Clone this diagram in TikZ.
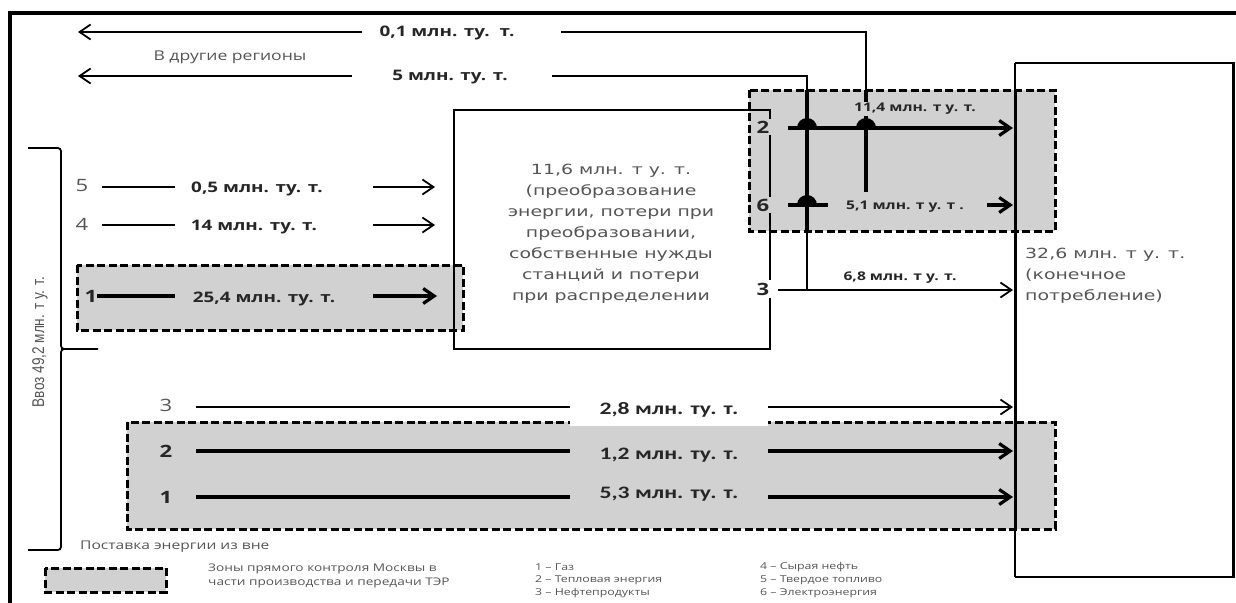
\documentclass[tikz,border=0pt]{standalone}
\usepackage{fontspec}
\setmainfont{Open Sans}
\newfontfamily\labf[FakeStretch=1.3]{Open Sans}
\newfontfamily\txtf[FakeStretch=1.35]{DejaVu Sans}
\newfontfamily\narf[FakeStretch=0.8]{Liberation Sans}
\newfontfamily\calf[FakeStretch=1.35]{Carlito}
\usetikzlibrary{arrows.meta}
\definecolor{zone}{RGB}{209,209,209}
\definecolor{txt}{RGB}{85,85,85}
\tikzset{
  zonebox/.style={fill=zone, draw=black, line width=3pt, dash pattern=on 8pt off 3.5pt},
  ln/.style={line width=1.8pt},
  lnk/.style={line width=3.2pt},
  arr/.style={-{Straight Barb[length=11pt,width=15pt]}},
  larr/.style={{Straight Barb[length=11pt,width=15pt]}-},
  lab/.style={font={\labf\bfseries\fontsize{14.5}{16}\selectfont}, text=black!85, inner sep=1pt},
  slab/.style={font={\labf\bfseries\fontsize{12}{14}\selectfont}, text=black!85, inner sep=1pt},
  blab/.style={font={\calf\bfseries\fontsize{17.5}{19}\selectfont}, text=black!85, inner sep=1pt},
  body/.style={font={\txtf\fontsize{14}{21}\selectfont}, text=txt, align=center, inner sep=0pt},
  num/.style={font={\labf\fontsize{17}{19}\selectfont}, text=txt, inner sep=1pt},
  bnum/.style={font={\labf\bfseries\fontsize{17}{19}\selectfont}, text=black!85, inner sep=1pt},
  leg/.style={font={\labf\fontsize{9.5}{13}\selectfont}, text=txt, anchor=west, inner sep=0pt},
}
\begin{document}
\begin{tikzpicture}[x=1pt,y=-1pt]
\useasboundingbox (0,0) rectangle (1236,602);
\clip (0,0) rectangle (1236,602);
% frame
\draw[line width=4pt] (10,13) rectangle (1250,620);
% zones
\draw[zonebox] (77,265) rectangle (463,330);
\draw[zonebox] (749,90) rectangle (1055,231);
\draw[zonebox] (127,422) rectangle (1055,529);
% middle box
\node[draw, line width=1.6pt, minimum width=316pt, minimum height=239pt, anchor=north west, inner sep=0pt] (mid) at (453,109) {};
\node[body] (midtxt) at (611,234) {11,6 млн. т у. т.\\(преобразование\\энергии, потери при\\преобразовании,\\собственные нужды\\станций и потери\\при распределении};
% right box
\draw[line width=1.6pt] (1015,63) -- (1233,63);
\draw[line width=1.6pt] (1015,577) -- (1233,577);
\draw[line width=1.6pt] (1015,63) -- (1015,577);
\draw[line width=3pt] (1233,62) -- (1233,578);
\draw[line width=3pt] (1015,90) -- (1015,529);
\node[body, align=left, anchor=north west] (fin) at (1025,248) {32,6 млн. т у. т.\\(конечное\\потребление)};
% brace
\draw[ln] (28,148) -- (54,148) .. controls (61,148) .. (61,155) -- (61,342) .. controls (61,349) .. (68,349) -- (98,349);
\draw[ln] (68,349) .. controls (61,349) .. (61,356) -- (61,543) .. controls (61,550) .. (54,550) -- (28,550);
\node[font={\narf\fontsize{17}{19}\selectfont}, text=txt, rotate=90] (vvoz) at (40,342) {Ввоз 49,2 млн. т у. т.};
% top outgoing flows
\node[lab] (o1) at (447,33) {0,1 млн. ту.\ \ т.};
\node[font={\labf\fontsize{13.5}{15}\selectfont}, text=txt] (reg) at (230,57) {В другие регионы};
\node[lab] (o5) at (450,77) {5 млн. ту. т.};
\coordinate (o1a) at (362,32);
\coordinate (o1b) at (78,32);
\coordinate (o1c) at (561,32);
\coordinate (o1d) at (866,32);
\coordinate (o1e) at (866,90);
\coordinate (o1f) at (866,192);
\draw[ln,larr] (o1b) -- (o1a);
\draw[ln] (o1c) -- (o1d) -- (o1e);
\draw[lnk] (o1e) -- (o1f);
\coordinate (o5a) at (352,76);
\coordinate (o5b) at (78,76);
\coordinate (o5c) at (552,76);
\coordinate (o5d) at (807,76);
\coordinate (o5e) at (807,90);
\coordinate (o5f) at (807,231);
\coordinate (o5g) at (807,290);
\draw[ln,larr] (o5b) -- (o5a);
\draw[ln] (o5c) -- (o5d) -- (o5e);
\draw[lnk] (o5e) -- (o5f);
\draw[ln] (o5f) -- (o5g);
% rows in top right zone
\coordinate (r2a) at (788,128);
\coordinate (r2b) at (1013,128);
\draw[lnk,arr] (r2a) -- (r2b);
\fill (797,128) arc[start angle=180,end angle=0,radius=10pt] -- cycle;
\fill (856,128) arc[start angle=180,end angle=0,radius=10pt] -- cycle;
\node[slab, fill=zone] (l114) at (915,109) {11,4 млн. т у. т.};
\coordinate (r6a) at (788,205);
\coordinate (r6b) at (828,205);
\coordinate (r6c) at (987,205);
\coordinate (r6d) at (1013,205);
\draw[lnk] (r6a) -- (r6b);
\draw[lnk,arr] (r6c) -- (r6d);
\fill (797,205) arc[start angle=180,end angle=0,radius=10pt] -- cycle;
\node[slab] (l51) at (905,207) {5,1 млн. т у. т .};
\coordinate (r3a) at (778,290);
\coordinate (r3b) at (1013,290);
\draw[ln,arr] (r3a) -- (r3b);
\node[slab] (l68) at (900,278) {6,8 млн. т у. т.};
\node[bnum, fill=zone, inner sep=2pt] (n2) at (763,127) {2};
\node[bnum, fill=zone, inner sep=2pt] (n6) at (763,205) {6};
\node[bnum, fill=white, inner sep=3pt] (n3) at (763,289) {3};
% left incoming rows
\node[num] (n5) at (82,186) {5};
\node[num] (n4) at (82,224) {4};
\node[bnum] (n1) at (91,296) {1};
\draw[ln] (102,187) -- (175,187);
\draw[ln,arr] (373,187) -- (435,187);
\node[lab] (l05) at (257,189) {0,5 млн. ту. т.};
\draw[ln] (102,225) -- (175,225);
\draw[ln,arr] (373,225) -- (435,225);
\node[lab] (l14) at (254,227) {14 млн. ту. т.};
\draw[lnk] (97,296) -- (175,296);
\draw[lnk,arr] (373,296) -- (437,296);
\node[lab] (l254) at (264,299) {25,4 млн. ту. т.};
% bottom rows
\node[num] (b3) at (166,405) {3};
\node[bnum] (b2) at (166,451) {2};
\node[bnum] (b1) at (166,497) {1};
\draw[ln,arr] (196,407) -- (1013,407);
\node[blab, fill=white, minimum width=198pt, minimum height=32pt] (l28) at (669,410) {2,8 млн. ту. т.};
\draw[lnk] (196,451) -- (570,451);
\draw[lnk,arr] (768,451) -- (1013,451);
\node[blab] (l12) at (669,455) {1,2 млн. ту. т.};
\draw[lnk] (196,497) -- (570,497);
\draw[lnk,arr] (768,497) -- (1013,497);
\node[blab] (l53) at (669,494) {5,3 млн. ту. т.};
% legend
\node[leg, font={\labf\fontsize{12}{14}\selectfont}] (src) at (80,547) {Поставка энергии из вне};
\draw[zonebox] (45,568) rectangle (166,592);
\node[leg, font={\labf\fontsize{10.5}{13}\selectfont}] (z1) at (208,569) {Зоны прямого контроля Москвы в};
\node[leg, font={\labf\fontsize{10.5}{13}\selectfont}] (z2) at (208,583) {части производства и передачи ТЭР};
\node[leg] (g1) at (535,567) {1 – Газ};
\node[leg] (g2) at (535,580) {2 – Тепловая энергия};
\node[leg] (g3) at (535,593) {3 – Нефтепродукты};
\node[leg] (g4) at (760,567) {4 – Сырая нефть};
\node[leg] (g5) at (760,580) {5 – Твердое топливо};
\node[leg] (g6) at (760,593) {6 – Электроэнергия};
\end{tikzpicture}
\end{document}
